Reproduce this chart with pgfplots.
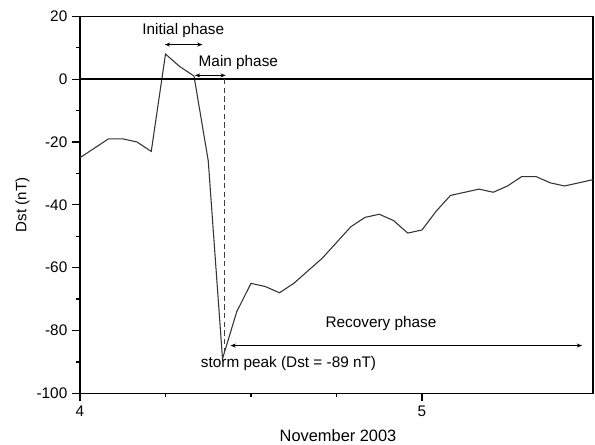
\documentclass[border=0pt]{standalone}
\usepackage{fontspec}
\setmainfont{Liberation Sans}
\usepackage{pgfplots}
\pgfplotsset{compat=1.18}
\usetikzlibrary{arrows.meta}
\begin{document}
\begin{tikzpicture}
\useasboundingbox (-60pt,-38.25pt) rectangle (386.25pt,295pt);
\begin{axis}[
  at={(0,0)}, anchor=south west,
  scale only axis, width=384.75pt, height=282.75pt,
  xmin=4, xmax=5.5, ymin=-100, ymax=20,
  xtick={4,5}, minor x tick num=3,
  ytick={-100,-80,-60,-40,-20,0,20}, minor y tick num=1,
  xtick pos=bottom, ytick pos=left, tick align=outside,
  major tick length=6pt, minor tick length=3pt,
  every tick/.style={black, line width=0.9pt},
  axis line style={line width=1pt},
  /pgf/number format/assume math mode=true,
  tick label style={font=\fontsize{11.5}{13}\selectfont},
  xlabel={November 2003}, ylabel={Dst (nT)},
  xlabel style={font=\fontsize{12.3}{14}\selectfont, at={(axis description cs:0.503,-0.111)}, anchor=center},
  ylabel style={font=\fontsize{11.3}{13}\selectfont, at={(axis description cs:-0.112,0.5)}, anchor=center},
  clip=false,
]
\addplot[line width=0.8pt, color=black!80] table[x expr=4+\thisrow{h}/24, y=dst] {
h dst
0 -25
1 -22
2 -19
3 -19
4 -20
5 -23
6 8
7 4
8 1
9 -26
10 -89
11 -74
12 -65
13 -66
14 -68
15 -65
16 -61
17 -57
18 -52
19 -47
20 -44
21 -43
22 -45
23 -49
24 -48
25 -42
26 -37
27 -36
28 -35
29 -36
30 -34
31 -31
32 -31
33 -33
34 -34
35 -33
36 -32
};
\draw[line width=1pt] (axis cs:4,0) -- (axis cs:5.5,0);
\draw[line width=0.7pt, black!75, dash pattern=on 4pt off 2.5pt] (axis cs:4.421,0) -- (axis cs:4.421,-88);
\draw[{Stealth[length=4pt,width=3pt]}-{Stealth[length=4pt,width=3pt]}, line width=0.8pt] (axis cs:4.248,11) -- (axis cs:4.358,11);
\draw[{Stealth[length=4pt,width=3pt]}-{Stealth[length=4pt,width=3pt]}, line width=0.8pt] (axis cs:4.336,1.2) -- (axis cs:4.426,1.2);
\draw[{Stealth[length=4pt,width=3pt]}-{Stealth[length=4pt,width=3pt]}, line width=0.7pt] (axis cs:4.44,-84.8) -- (axis cs:5.468,-84.8);
\node[font=\fontsize{11.5}{13}\selectfont] at (axis cs:4.302,15.5) {Initial phase};
\node[font=\fontsize{11.5}{13}\selectfont] at (axis cs:4.463,5.3) {Main phase};
\node[font=\fontsize{11.5}{13}\selectfont, anchor=west, inner sep=0pt] at (axis cs:4.353,-90.6) {storm peak (Dst = -89 nT)};
\node[font=\fontsize{11.5}{13}\selectfont] at (axis cs:4.88,-77.7) {Recovery phase};
\end{axis}
\end{tikzpicture}
\end{document}
